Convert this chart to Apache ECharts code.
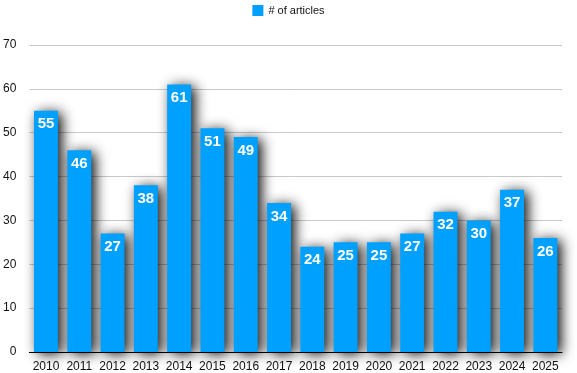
<!DOCTYPE html>
<html><head><meta charset="utf-8">
<script src="https://cdn.jsdelivr.net/npm/echarts@6/dist/echarts.min.js"></script>
<style>html,body{margin:0;padding:0;background:#fff}#c{width:577px;height:373px}</style>
</head><body><div id="c"></div>
<script>
const categories = ["2010","2011","2012","2013","2014","2015","2016","2017","2018","2019","2020","2021","2022","2023","2024","2025"];
const articles = [55,46,27,38,61,51,49,34,24,25,25,27,32,30,37,26];
const seriesName = "# of articles";
const chart = echarts.init(document.getElementById('c'));
chart.setOption({
  animation:false,
  textStyle:{fontFamily:'Helvetica, Arial, "Liberation Sans", sans-serif'},
  legend:{top:0,left:'center',itemWidth:11,itemHeight:11,itemGap:8,icon:'rect',
    textStyle:{fontSize:11,color:'#111'},data:[seriesName]},
  grid:{left:27,right:15,top:45,bottom:20},
  xAxis:{type:'category',data:categories,
    axisLine:{lineStyle:{color:'#000',width:1}},axisTick:{show:false},
    axisLabel:{color:'#111',fontSize:12,margin:9,interval:0}},
  yAxis:{type:'value',min:0,max:70,interval:10,
    axisLine:{show:false},axisTick:{show:false},
    splitLine:{lineStyle:{color:'#c8c8c8'}},
    axisLabel:{color:'#111',fontSize:12,margin:13}},
  series:[{name:seriesName,type:'bar',data:articles,barWidth:'72%',
    itemStyle:{color:'#00a0ff',shadowColor:'rgba(0,0,0,0.95)',shadowBlur:13,shadowOffsetX:4,shadowOffsetY:2},
    label:{show:true,position:'insideTop',color:'#fff',fontWeight:'bold',fontSize:15,offset:[0,1]}}]
});
</script></body></html>
